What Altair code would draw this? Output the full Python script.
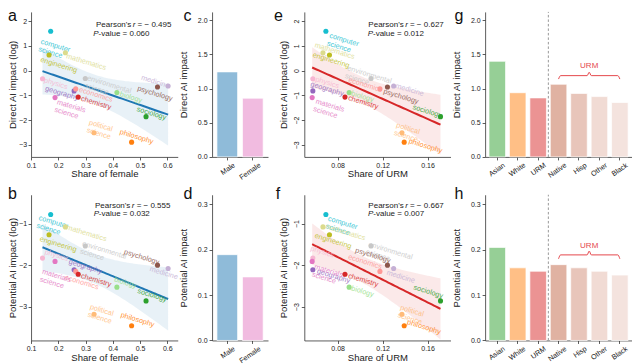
import altair as alt
import numpy as np
import pandas as pd

# ---------------- data ----------------
fields = ["computer science", "mathematics", "engineering", "environmental science",
          "medicine", "psychology", "physics", "geography", "economics",
          "materials science", "chemistry", "biology", "sociology",
          "political science", "philosophy"]
share_female = [0.172, 0.226, 0.166, 0.299, 0.603, 0.564, 0.142, 0.258, 0.264,
                0.188, 0.273, 0.415, 0.522, 0.331, 0.469]
share_urm = [0.0695, 0.0669, 0.0727, 0.1097, 0.1298, 0.1243, 0.0579, 0.0579, 0.1176,
             0.0573, 0.0865, 0.0902, 0.1715, 0.1372, 0.1392]
direct_log = [1.59, 0.72, 0.63, -0.32, -0.62, -0.66, -0.33, -0.82, -0.74,
              -1.09, -1.07, -0.89, -1.86, -2.51, -2.89]
potential_log = [-0.78, -1.08, -1.27, -1.54, -2.08, -2.00, -1.83, -2.11, -2.15,
                 -1.91, -2.22, -2.53, -2.86, -3.18, -3.46]
field_colors = ["#17becf", "#dbdb8d", "#bcbd22", "#c7c7c7", "#c5b0d5", "#8c564b",
                "#f7b6d2", "#9467bd", "#ff9896", "#e377c2", "#d62728", "#98df8a",
                "#2ca02c", "#ffbb78", "#ff7f0e"]

sex_groups = ["Male", "Female"]
sex_direct = [1.245, 0.86]
sex_potential = [0.189, 0.140]
sex_colors = ["#8fbbd9", "#f1bbe0"]

race_groups = ["Asian", "White", "URM", "Native", "Hisp", "Other", "Black"]
race_direct = [1.40, 0.94, 0.864, 1.064, 0.93, 0.883, 0.797]
race_potential = [0.205, 0.160, 0.1525, 0.167, 0.160, 0.1525, 0.144]
race_colors = ["#96cf96", "#ffbf86", "#eb9393", "#e0b2a2", "#e8c5ba", "#f1dbd4", "#f4e3de"]

pearson_r = {"a": "− 0.495", "b": "− 0.555", "e": "− 0.627", "f": "− 0.667"}
p_values = {"a": "0.060", "b": "0.032", "e": "0.012", "f": "0.007"}

# ---------------- layout (reference pixel geometry) ----------------
W, H = 624, 356
KX, KY = W / 636.0, 352 / 360.0


def PX(X):
    return (X - 2.0) * KX


def PY(Y):
    return (Y - 2.0) * KY


TOP = (154.3, 6.0)
BOT = (342.0, 193.0)
GEO = {
    "a": (25.5, 175.0) + TOP + ([0.1, 0.6383], [-3.486, 2.369]),
    "b": (25.5, 175.0) + BOT + ([0.1, 0.6383], [-3.812, -0.306]),
    "e": (304.0, 453.0) + TOP + ([0.0503, 0.1804], [-3.486, 2.369]),
    "f": (304.0, 453.0) + BOT + ([0.0503, 0.1804], [-3.812, -0.306]),
    "c": (210.0, 267.0) + TOP + (None, [0, 2.123]),
    "d": (210.0, 267.0) + BOT + (None, [0, 0.321]),
    "g": (488.3, 638.0) + TOP + (None, [0, 2.123]),
    "h": (488.3, 638.0) + BOT + (None, [0, 0.321]),
}

# label offsets (dx, dy) in reference px, same order as fields
OFFS = {
    "a": [(-10, 9), (1, 2), (-8.7, 3.3), (2, -2), (-27.4, -10), (-20.4, 0), (1.7, 0),
          (-29.4, -4), (3.4, -0.7), (2, 3), (3, 0), (3, 0), (-9.3, -9.3), (-5, -12), (-12, -12)],
    "b": [(-12, 2), (1.3, -1), (-9.3, 2.7), (-3, -4), (-18.7, -1), (-34, -15), (2.3, -7.7),
          (-5.3, -9.7), (-11, 4.6), (-13, 9), (3, 0), (-2.7, -9.4), (-8.7, -11.7), (-4, -9), (-11, -12.7)],
    "e": [(3.7, 3), (-8.3, -9.4), (-17, -1.7), (-24, -12), (2, -1.7), (-4, 3), (2.7, -1),
          (-2.3, -8.4), (-32, -10.7), (3.7, 2.3), (3.3, -0.6), (2.3, -0.7), (-28.3, -11.3), (-5.7, -9.3), (4.7, -2.7)],
    "f": [(2.3, 2.7), (2.7, -2), (-15, -0.7), (-2.6, -3.3), (-7, 2.7), (-32.7, -16.6), (-2.3, -11.3),
          (4.3, 0), (-32.3, -16.3), (2.3, 4), (3.3, 0), (2.3, -0.4), (-27.3, -15.3), (-1.7, -8.3), (3, -5.3)],
}

base = pd.DataFrame({"field": fields, "female": share_female, "urm": share_urm,
                     "direct": direct_log, "potential": potential_log, "color": field_colors})
base["label"] = base["field"].str.replace(" ", "\n")


def scatter_layers(key, xcol, ycol, line_color, xtitle, xticks, xfmt, ytitle, yticks, yangle, ytpad):
    X0, X1, Y0, Y1, xdom, ydom = GEO[key]
    xs = alt.Scale(domain=xdom, range=[PX(X0), PX(X1)], nice=False, zero=False)
    ys = alt.Scale(domain=ydom, range=[PY(Y0), PY(Y1)], nice=False, zero=False, clamp=True)
    ux = (xdom[1] - xdom[0]) / (X1 - X0)
    uy = (ydom[1] - ydom[0]) / (Y0 - Y1)
    offs = OFFS[key]
    d = pd.DataFrame({"x": base[xcol], "y": base[ycol], "color": base["color"], "label": base["label"]})
    d["lx"] = d["x"] + np.array([o[0] for o in offs]) * ux
    d["ly"] = d["y"] - (np.array([o[1] for o in offs]) + 1.5) * uy

    x = d["x"].to_numpy()
    y = d["y"].to_numpy()
    n = len(x)
    slope, icpt = np.polyfit(x, y, 1)
    resid = y - (icpt + slope * x)
    s = np.sqrt((resid ** 2).sum() / (n - 2))
    xbar = x.mean()
    sxx = ((x - xbar) ** 2).sum()
    gx = np.linspace(x.min(), x.max(), 60)
    fit = icpt + slope * gx
    se = s * np.sqrt(1.0 / n + (gx - xbar) ** 2 / sxx)
    fd = pd.DataFrame({"gx": gx, "fit": fit, "lo": fit - 2.160 * se, "hi": fit + 2.160 * se})

    yaxis_kw = dict(orient="left", offset=-PX(X0), values=yticks, format="d", title=ytitle,
                    titlePadding=ytpad, labelPadding=1.5)
    if yangle:
        yaxis_kw.update(labelAngle=yangle, labelAlign="center", labelBaseline="bottom")
    xaxis = alt.Axis(orient="bottom", offset=PY(Y0) - H, values=xticks, format=xfmt, title=xtitle,
                     titlePadding=0.5, labelPadding=1.5)
    yaxis = alt.Axis(**yaxis_kw)

    band = alt.Chart(fd).mark_area(color=line_color, opacity=0.1).encode(
        x=alt.X("gx:Q", scale=xs, axis=None), y=alt.Y("lo:Q", scale=ys, axis=None), y2="hi:Q")
    line = alt.Chart(fd).mark_line(color=line_color, strokeWidth=2).encode(
        x=alt.X("gx:Q", scale=xs, axis=None), y=alt.Y("fit:Q", scale=ys, axis=None))
    labels = alt.Chart(d).mark_text(align="left", baseline="middle", angle=17, fontSize=7.3,
                                    lineBreak="\n", opacity=0.85, lineHeight=8).encode(
        x=alt.X("lx:Q", scale=xs, axis=None), y=alt.Y("ly:Q", scale=ys, axis=None),
        text="label:N", color=alt.Color("color:N", scale=None))
    pts = alt.Chart(d).mark_circle(size=26, opacity=1).encode(
        x=alt.X("x:Q", scale=xs, axis=xaxis), y=alt.Y("y:Q", scale=ys, axis=yaxis),
        color=alt.Color("color:N", scale=None))
    return [band, line, labels, pts]


PIN, POUT = 0.19, 0.19


def bar_layer(key, groups, vals, colors, ytitle, yticks):
    X0, X1, Y0, Y1, _, ydom = GEO[key]
    xs = alt.Scale(type="band", domain=groups, range=[PX(X0), PX(X1)],
                   paddingInner=PIN, paddingOuter=POUT)
    ys = alt.Scale(domain=ydom, range=[PY(Y0), PY(Y1)], nice=False, zero=True)
    d = pd.DataFrame({"g": groups, "v": vals, "c": colors})
    xaxis = alt.Axis(orient="bottom", offset=PY(Y0) - H, title=None, labelAngle=-35,
                     labelAlign="right", labelBaseline="top", labelOffset=5 * KX,
                     labelFontSize=7.2, labelPadding=1)
    yaxis = alt.Axis(orient="left", offset=-PX(X0), values=yticks, format=".1f", title=ytitle,
                     titlePadding=9)
    return alt.Chart(d).mark_bar(stroke="white", strokeWidth=0.7).encode(
        x=alt.X("g:N", scale=xs, sort=groups, axis=xaxis),
        y=alt.Y("v:Q", scale=ys, axis=yaxis),
        color=alt.Color("c:N", scale=None))


def race_annot_layers(key, brace_base, brace_rise, label_y):
    X0, X1, Y0, Y1, _, ydom = GEO[key]
    n = len(race_groups)
    a0 = POUT + (1 - PIN) / 2
    idx = alt.Scale(domain=[-a0, n - PIN + 2 * POUT - a0], range=[PX(X0), PX(X1)], nice=False, zero=False)
    ys = alt.Scale(domain=ydom, range=[PY(Y0), PY(Y1)], nice=False, zero=False)
    sep = pd.DataFrame({"i": [race_groups.index("URM") + 0.5], "y0": [ydom[0]], "y1": [ydom[1]]})
    rule = alt.Chart(sep).mark_rule(color="#999999", strokeDash=[2.5, 2], strokeWidth=1).encode(
        x=alt.X("i:Q", scale=idx, axis=None), y=alt.Y("y0:Q", scale=ys, axis=None), y2="y1:Q")
    i0, i1 = race_groups.index("Native"), race_groups.index("Black")
    mid = (i0 + i1) / 2
    bx = [i0, i0 + 0.1, mid - 0.1, mid, mid + 0.1, i1 - 0.1, i1]
    r = brace_rise
    by = [brace_base, brace_base + r, brace_base + r, brace_base + 2 * r,
          brace_base + r, brace_base + r, brace_base]
    bd = pd.DataFrame({"bx": bx, "by": by, "o": list(range(len(bx)))})
    brace = alt.Chart(bd).mark_line(color="#e5484d", strokeWidth=1, interpolate="monotone").encode(
        x=alt.X("bx:Q", scale=idx, axis=None), y=alt.Y("by:Q", scale=ys, axis=None), order="o:Q")
    td = pd.DataFrame({"i": [mid], "y": [label_y], "t": ["URM"]})
    txt = alt.Chart(td).mark_text(color="#e5484d", fontSize=8, baseline="middle").encode(
        x=alt.X("i:Q", scale=idx, axis=None), y=alt.Y("y:Q", scale=ys, axis=None), text="t:N")
    return [rule, brace, txt]


layers = []
layers += scatter_layers("a", "female", "direct", "#1f77b4", "Share of female",
                         [0.1, 0.2, 0.3, 0.4, 0.5, 0.6], ".1f", "Direct AI impact (log)",
                         [-3, -2, -1, 0, 1, 2], None, 1)
layers += scatter_layers("b", "female", "potential", "#1f77b4", "Share of female",
                         [0.1, 0.2, 0.3, 0.4, 0.5, 0.6], ".1f", "Potential AI impact (log)",
                         [-3, -2, -1], None, 1)
layers += scatter_layers("e", "urm", "direct", "#d62728", "Share of URM",
                         [0.08, 0.12, 0.16], ".2f", "Direct AI impact (log)",
                         [-3, -2, -1, 0, 1, 2], 270, 4)
layers += scatter_layers("f", "urm", "potential", "#d62728", "Share of URM",
                         [0.08, 0.12, 0.16], ".2f", "Potential AI impact (log)",
                         [-3, -2, -1], 270, 4)
layers.append(bar_layer("c", sex_groups, sex_direct, sex_colors, "Direct AI impact",
                        [0, 0.5, 1.0, 1.5, 2.0]))
layers.append(bar_layer("d", sex_groups, sex_potential, sex_colors, "Potential AI impact",
                        [0, 0.1, 0.2, 0.3]))
layers.append(bar_layer("g", race_groups, race_direct, race_colors, "Direct AI impact",
                        [0, 0.5, 1.0, 1.5, 2.0]))
layers.append(bar_layer("h", race_groups, race_potential, race_colors, "Potential AI impact",
                        [0, 0.1, 0.2, 0.3]))
layers += race_annot_layers("g", 1.14, 0.05, 1.33)
layers += race_annot_layers("h", 0.180, 0.0085, 0.208)

# panel letters
LET = [("a", 2, 15.5), ("b", 2, 197), ("c", 181, 15.5), ("d", 181, 197),
       ("e", 273, 15.5), ("f", 275, 197), ("g", 457, 15.5), ("h", 457, 197)]
ld = pd.DataFrame({"t": [l[0] for l in LET], "x": [PX(l[1]) for l in LET], "y": [PY(l[2]) for l in LET]})
layers.append(alt.Chart(ld).mark_text(align="left", baseline="alphabetic", fontSize=16, color="#111").encode(
    x=alt.X("x:Q", scale=None, axis=None), y=alt.Y("y:Q", scale=None, axis=None), text="t:N"))

# Pearson annotations
PPOS = {"a": (91.7, 19.3, 89.0, 28.3), "b": (90.7, 204.3, 89.3, 212.7),
        "e": (369.3, 19.3, 368.7, 28.3), "f": (369.3, 204.0, 369.0, 212.7)}
norm_rows, ital_rows = [], []
for k, (x1, y1, x2, y2) in PPOS.items():
    norm_rows.append((PX(x1), PY(y1), "Pearson's"))
    ital_rows.append((PX(x1 + 37.5), PY(y1), "r"))
    norm_rows.append((PX(x1 + 42.4), PY(y1), "= " + pearson_r[k]))
    ital_rows.append((PX(x2), PY(y2), "P"))
    norm_rows.append((PX(x2 + 5.3), PY(y2), "-value = " + p_values[k]))
for rows, style in ((norm_rows, "normal"), (ital_rows, "italic")):
    dd = pd.DataFrame(rows, columns=["x", "y", "t"])
    layers.append(alt.Chart(dd).mark_text(align="left", baseline="middle", fontSize=8,
                                          fontStyle=style, color="#222").encode(
        x=alt.X("x:Q", scale=None, axis=None), y=alt.Y("y:Q", scale=None, axis=None), text="t:N"))

chart = alt.layer(*layers).resolve_scale(x="independent", y="independent").resolve_axis(
    x="independent", y="independent").properties(
    width=W, height=H, autosize=alt.AutoSizeParams(type="none"), padding=0
).configure(font="Liberation Sans").configure_view(stroke=None).configure_axis(
    labelFont="Liberation Sans", titleFont="Liberation Sans", labelFontSize=7, titleFontSize=9.5,
    titleFontWeight="normal", tickSize=3, tickWidth=0.8, domainWidth=0.8, domainColor="#333333",
    tickColor="#333333", labelColor="#222222", titleColor="#222222", grid=False, labelPadding=2,
    labelOverlap=False, labelFlush=False)

chart.save("out.html", embed_options={"renderer": "svg", "actions": False})
